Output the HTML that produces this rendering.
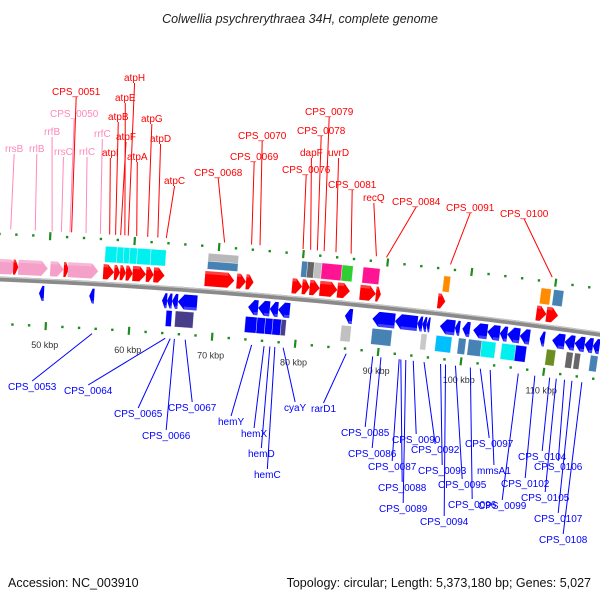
<!DOCTYPE html>
<html><head><meta charset="utf-8"><style>
body{margin:0;background:#fff}
svg{display:block;font-family:"Liberation Sans","DejaVu Sans",sans-serif}
</style></head><body>
<svg id="map" width="600" height="600" viewBox="0 0 600 600" xmlns="http://www.w3.org/2000/svg">
<text x="300" y="23" text-anchor="middle" font-size="12.5" font-style="italic" fill="#222">Colwellia psychrerythraea 34H, complete genome</text>
<text x="8" y="587" font-size="12.5" fill="#111">Accession: NC_003910</text>
<text x="591" y="587" text-anchor="end" font-size="12.5" fill="#111">Topology: circular; Length: 5,373,180 bp; Genes: 5,027</text>
<g id="layer"></g>
</svg>
<script>
// Data (positions in kbp)
const fwdGenes = [[44.2,46.3,'#f4a0c8'],[45.8,46.4,'#ff0000'],[46.4,49.9,'#f4a0c8'],[50.2,51.8,'#f4a0c8'],[51.8,52.4,'#ff0000'],[52.3,55.9,'#f4a0c8'],
[56.5,57.8,'#ff0000'],[57.8,58.5,'#ff0000'],[58.5,59.2,'#ff0000'],[59.2,60.0,'#ff0000'],[60.0,61.6,'#ff0000'],[61.6,62.5,'#ff0000'],[62.5,63.8,'#ff0000'],
[68.6,72.1,'#ff0000'],[72.4,73.5,'#ff0000'],[73.5,74.4,'#ff0000'],[79.0,80.2,'#ff0000'],[80.2,81.1,'#ff0000'],[81.1,82.3,'#ff0000'],[82.3,84.4,'#ff0000'],[84.4,85.9,'#ff0000'],
[87.1,89.0,'#ff0000'],[89.0,89.6,'#ff0000'],[96.4,97.3,'#ff0000'],[108.2,109.4,'#ff0000'],[109.4,110.8,'#ff0000']];
const fwdFeatures = [[56.6,58.0,'#00f0f0'],[58.0,58.8,'#00f0f0'],[58.8,59.5,'#00f0f0'],[59.5,60.4,'#00f0f0'],[60.4,62.0,'#00f0f0'],[62.0,63.8,'#00f0f0'],
[68.8,72.4,'grayblue'],[79.9,80.6,'#4682b4'],[80.6,81.4,'#666666'],[81.4,82.3,'#c0c0c0'],[82.3,84.7,'#ff1493'],[84.7,86.0,'#32cd32'],[87.2,89.2,'#ff1493'],
[96.8,97.6,'#ff8c00'],[108.4,109.6,'#ff8c00'],[109.9,111.1,'#4682b4']];
const revGenes = [[49.0,49.6],[55.0,55.6],[63.7,64.3],[64.3,64.9],[64.9,65.6],[65.6,67.9],[74.0,75.2],[75.2,76.6],[76.6,77.6],[77.6,79.0],[85.6,86.5],[88.9,91.6],[91.6,94.3],
[94.3,94.9],[94.9,95.4],[95.4,95.8],[97.0,98.8],[98.8,99.4],[99.7,100.6],[101.0,102.7],[102.7,104.2],[104.2,105.1],[105.1,106.6],[106.6,107.8],[109.0,109.6],
[110.5,112.0],[112.0,113.2],[113.2,114.4],[114.4,115.4],[115.4,116.2]];
const revFeatures = [[64.3,65.0,'#0000ff'],[65.4,67.6,'#483d8b'],[73.8,75.2,'#0000ff'],[75.2,76.2,'#0000ff'],[76.2,77.1,'#0000ff'],[77.1,78.1,'#0000ff'],[78.1,78.7,'#483d8b'],
[85.3,86.5,'#c0c0c0'],[89.0,91.4,'#4682b4'],[94.9,95.6,'#c8c8c8'],[96.7,98.6,'#00bfff'],[99.4,100.3,'#4682b4'],[100.6,102.2,'#4682b4'],[102.2,103.9,'#00f0f0'],
[104.6,106.3,'#00f0f0'],[106.3,107.6,'#0000ff'],[110.0,111.1,'#6b8e23'],[112.4,113.2,'#666666'],[113.4,114.1,'#666666'],[115.3,116.2,'#4682b4']];
const tickStart = 44, tickEnd = 116, minorStep = 2, majorStep = 10;
const topLabels = [['rrsB',45.3,5,152,'#ff88bb'],['rrlB',48.2,29,152,'#ff88bb'],['rrfB',50.2,44,135,'#ff88bb'],['rrsC',51.3,54,155,'#ff88bb'],['CPS_0050',52.3,50,117,'#ff88bb'],
['CPS_0051',52.5,52,95,'#ff0000'],['rrlC',54.2,79,155,'#ff88bb'],['rrfC',55.9,94,137,'#ff88bb'],['atpI',57.0,102,156,'#ff0000'],['atpB',57.7,108,120,'#ff0000'],
['atpF',58.3,116,140,'#ff0000'],['atpE',58.8,115,101,'#ff0000'],['atpH',59.2,124,81,'#ff0000'],['atpA',60.2,127,160,'#ff0000'],['atpG',61.5,141,122,'#ff0000'],
['atpD',62.7,150,142,'#ff0000'],['atpC',63.7,164,184,'#ff0000'],['CPS_0068',70.6,194,176,'#ff0000'],['CPS_0069',73.8,230,160,'#ff0000'],['CPS_0070',74.8,238,139,'#ff0000'],
['CPS_0076',79.9,282,173,'#ff0000'],['dapF',80.8,300,156,'#ff0000'],['CPS_0078',81.6,297,134,'#ff0000'],['CPS_0079',82.4,305,115,'#ff0000'],['uvrD',83.8,328,156,'#ff0000'],
['CPS_0081',85.6,328,188,'#ff0000'],['recQ',88.6,363,201,'#ff0000'],['CPS_0084',89.8,392,205,'#ff0000'],['CPS_0091',97.4,446,211,'#ff0000'],['CPS_0100',109.5,500,217,'#ff0000']];
const bottomLabels = [['CPS_0053',55.6,8,390],['CPS_0064',64.4,64,394],['CPS_0065',65.0,114,417],['CPS_0066',65.5,142,439],['CPS_0067',66.8,168,411],
['hemY',74.8,218,425],['hemX',76.3,241,437],['hemD',77.0,248,457],['hemC',77.6,254,478],['cyaY',78.6,284,411],['rarD1',86.2,311,412],
['CPS_0085',89.4,341,436],['CPS_0086',90.4,348,457],['CPS_0087',92.6,368,470],['CPS_0088',92.8,378,491],['CPS_0089',93.4,379,512],['CPS_0090',94.3,392,443],
['CPS_0092',95.6,411,453],['CPS_0093',97.6,418,474],['CPS_0094',98.2,420,525],['CPS_0095',99.4,438,488],['CPS_0096',101.2,448,508],['CPS_0097',102.4,465,447],
['mmsA1',103.6,477,474],['CPS_0099',107.0,478,509],['CPS_0102',109.0,501,487],['CPS_0104',110.8,518,460],['CPS_0105',111.6,521,501],['CPS_0106',112.6,534,470],
['CPS_0107',113.5,534,522],['CPS_0108',114.7,539,543]];

const NS='http://www.w3.org/2000/svg';
const layer=document.getElementById('layer');
const CX=-249.5, CY=6273.8, R=6000, TH0=0.0496, RAD=0.0014;
function pt(k,off){const t=TH0+(k-50)*RAD, r=R+off;return [CX+r*Math.sin(t), CY-r*Math.cos(t)];}
function mk(tag,attrs){const e=document.createElementNS(NS,tag);for(const a in attrs)e.setAttribute(a,attrs[a]);layer.appendChild(e);return e;}
function poly(list){return list.map(p=>p[0].toFixed(2)+','+p[1].toFixed(2)).join(' ');}

// backbone
let d='';for(let k=38;k<=122;k+=1){const p=pt(k,0);d+=(k==38?'M':'L')+p[0].toFixed(1)+' '+p[1].toFixed(1);}
let bb=mk('path',{d:d,stroke:'#8a8a8a','stroke-width':5,fill:'none'});


let d2='';for(let k=38;k<=122;k+=1){const p=pt(k,1.8);d2+=(k==38?'M':'L')+p[0].toFixed(1)+' '+p[1].toFixed(1);}
mk('path',{d:d2,stroke:'#c8c8c8','stroke-width':1.2,fill:'none'});

// ticks
for(let k=tickStart;k<=tickEnd;k+=minorStep){
  const major=(k%majorStep===0);
  [1,-1].forEach(s=>{
    if(major){const a=pt(k,s*41),b=pt(k,s*49);
      const l=mk('line',{x1:a[0],y1:a[1],x2:b[0],y2:b[1],stroke:'#1e8c1e','stroke-width':2.2});
      
      
    }else{const c=pt(k,s*45);
      const r=mk('rect',{x:c[0]-1.2,y:c[1]-1.2,width:2.4,height:2.4,fill:'#1e8c1e'});
      
      }
  });
  if(major){const c=pt(k,-64);
    const t=mk('text',{x:c[0],y:c[1]+3,'text-anchor':'middle','font-size':9,fill:'#333'});
    t.textContent=k+' kbp';
    
    }
}

function box(a,b,r1,r2,col,name){
  if(col==='grayblue'){const m=(r1+r2)/2;
    box(a,b,m,r2,'#b8b8b8',name);box(a,b,r1,m,'#4682b4',name);return;}
  const e=mk('polygon',{points:poly([pt(a,r1),pt(b,r1),pt(b,r2),pt(a,r2)]),fill:col,stroke:'rgba(255,255,255,0.6)','stroke-width':0.6});
  
  
}
function arrow(a,b,r1,r2,col,dir,name){
  const h=Math.min(0.75,(b-a)*0.6), m=(r1+r2)/2;
  let pts;
  if(dir>0) pts=[pt(a,r1),pt(b-h,r1),pt(b,m),pt(b-h,r2),pt(a,r2)];
  else pts=[pt(b,r1),pt(a+h,r1),pt(a,m),pt(a+h,r2),pt(b,r2)];
  const e=mk('polygon',{points:poly(pts),fill:col});
  
  
  const hl=mk('polygon',{points:poly(dir>0?[pt(a,r2-3),pt(b-h,r2-3),pt(b-h,r2),pt(a,r2)]:[pt(b,r1+3),pt(a+h,r1+3),pt(a+h,r1),pt(b,r1)]),fill:'rgba(255,255,255,0.25)'});
}
fwdFeatures.forEach(g=>box(g[0],g[1],22,38,g[2],'forward-feature'));
fwdGenes.forEach(g=>arrow(g[0],g[1],5,20,g[2],1,'forward-gene'));
revGenes.forEach(g=>arrow(g[0],g[1],-20,-5,'#0000ff',-1,'reverse-gene'));
revFeatures.forEach(g=>box(g[0],g[1],-38,-22,g[2],'reverse-feature'));

// labels
topLabels.forEach(L=>{
  const t=mk('text',{x:L[2],y:L[3],'font-size':10,fill:L[4]});
  t.textContent=L[0];
  
  
  const w=t.getComputedTextLength?t.getComputedTextLength():L[0].length*5.6;
  const p=pt(L[1],50);
  const l=mk('line',{x1:L[2]+w/2,y1:L[3]+2,x2:p[0],y2:p[1],stroke:L[4],'stroke-width':1});
  
  
});
bottomLabels.forEach(L=>{
  const t=mk('text',{x:L[2],y:L[3],'font-size':10,fill:'#0000ff'});
  t.textContent=L[0];
  
  
  const w=t.getComputedTextLength?t.getComputedTextLength():L[0].length*5.6;
  const p=pt(L[1],-50);
  const l=mk('line',{x1:L[2]+w/2,y1:L[3]-9,x2:p[0],y2:p[1],stroke:'#0000ff','stroke-width':1});
  
  
});
</script>
</body></html>
